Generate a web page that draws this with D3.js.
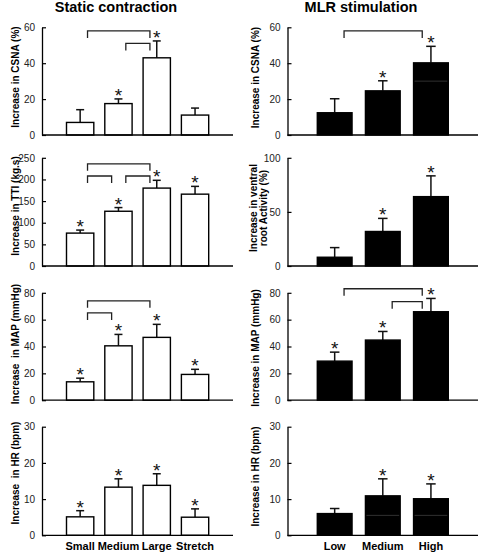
<!DOCTYPE html>
<html><head><meta charset="utf-8">
<script src="https://cdn.jsdelivr.net/npm/d3@7"></script>
<style>
body{margin:0;background:#fff}
text{font-family:"Liberation Sans",Arial,Helvetica,sans-serif}
</style>
</head><body>
<svg id="c" width="480" height="552"></svg>
<script>
// ---------- data ----------
const staticCats = ["Small", "Medium", "Large", "Stretch"];
const mlrCats = ["Low", "Medium", "High"];

const csnaStatic = [7.0, 17.5, 43.0, 11.1];
const csnaStaticErr = [7.1, 2.6, 9.4, 3.9];
const csnaStaticStar = [false, true, true, false];

const ttiStatic = [76, 126.5, 180, 166];
const ttiStaticErr = [7, 8.5, 18, 18];
const ttiStaticStar = [true, true, true, true];

const mapStatic = [13.7, 40.5, 46.8, 19.2];
const mapStaticErr = [2.7, 8.5, 9.7, 3.8];
const mapStaticStar = [true, true, true, true];

const hrStatic = [5.1, 13.3, 13.8, 5.0];
const hrStaticErr = [1.7, 2.3, 3.2, 2.3];
const hrStaticStar = [true, true, true, true];

const csnaMlr = [12.4, 24.6, 40.2];
const csnaMlrErr = [7.8, 5.6, 9.2];
const csnaMlrStar = [false, true, true];

const ventralMlr = [8.1, 31.9, 64.1];
const ventralMlrErr = [8.9, 12.1, 19.2];
const ventralMlrStar = [false, true, true];

const mapMlr = [29.1, 44.8, 65.9];
const mapMlrErr = [6.7, 6.4, 9.9];
const mapMlrStar = [true, true, true];

const hrMlr = [6.0, 10.9, 10.1];
const hrMlrErr = [1.4, 4.7, 4.1];
const hrMlrStar = [false, true, true];

// significance brackets: [from, to, level (axis units)]
const csnaStaticBrackets = [["Small", "Large", 58], ["Medium", "Large", 51]];
const ttiStaticBrackets = [["Small", "Large", 236], ["Small", "Medium", 208], ["Medium", "Large", 208]];
const mapStaticBrackets = [["Small", "Large", 74], ["Small", "Medium", 65]];
const csnaMlrBrackets = [["Low", "High", 58]];
const mapMlrBrackets = [["Low", "High", 83], ["Medium", "High", 73.4]];

// faint inner lines seen inside some filled bars: [category, value]
const csnaMlrInner = [["High", 30]];
const hrMlrInner = [["Medium", 5.5], ["High", 5.5]];

const ticksCSNA = [0, 20, 40, 60];
const ticksTTI = [0, 50, 100, 150, 200, 250];
const ticksMAP = [0, 20, 40, 60, 80];
const ticksHR = [0, 10, 20, 30];
const ticksVentral = [0, 50, 100];

const colTitles = ["Static contraction", "MLR stimulation"];

// ---------- layout ----------
const svg = d3.select("#c");
const rows = [
  {base: 135, top: 27.3},
  {base: 266, top: 157.8},
  {base: 400.2, top: 292.8},
  {base: 535.3, top: 426.7}
];
const cols = [
  {axisX: 42, endX: 233, range: [66.5, 208.7], pad: 0.287, cats: staticCats, fill: "#fff", cap: 8, titleX: 116, labelX: 18.5},
  {axisX: 287.5, endX: 478, range: [317.3, 448.3], pad: 0.278, cats: mlrCats, fill: "#000", cap: 9.5, titleX: 361, labelX: 258.5}
];

const panels = [
  {col: 0, row: 0, vals: csnaStatic, err: csnaStaticErr, star: csnaStaticStar, dom: [0, 60], ticks: ticksCSNA, br: csnaStaticBrackets, label: ["Increase in CSNA (%)"], labelY: 77},
  {col: 0, row: 1, vals: ttiStatic, err: ttiStaticErr, star: ttiStaticStar, dom: [0, 250], ticks: ticksTTI, br: ttiStaticBrackets, label: ["Increase in TTI (kg.s)"], labelY: 206},
  {col: 0, row: 2, vals: mapStatic, err: mapStaticErr, star: mapStaticStar, dom: [0, 80], ticks: ticksMAP, br: mapStaticBrackets, label: ["Increase  in MAP (mmHg)"], labelY: 344},
  {col: 0, row: 3, vals: hrStatic, err: hrStaticErr, star: hrStaticStar, dom: [0, 30], ticks: ticksHR, br: [], label: ["Increase  in HR (bpm)"], labelY: 473, xlabels: true},
  {col: 1, row: 0, vals: csnaMlr, err: csnaMlrErr, star: csnaMlrStar, dom: [0, 60], ticks: ticksCSNA, br: csnaMlrBrackets, label: ["Increase in CSNA (%)"], labelY: 77.5, inner: csnaMlrInner},
  {col: 1, row: 1, vals: ventralMlr, err: ventralMlrErr, star: ventralMlrStar, dom: [0, 100], ticks: ticksVentral, br: [], label: ["Increase in ventral", "root Activity (%)"], labelY: 208},
  {col: 1, row: 2, vals: mapMlr, err: mapMlrErr, star: mapMlrStar, dom: [0, 80], ticks: ticksMAP, br: mapMlrBrackets, label: ["Increase in MAP (mmHg)"], labelY: 348},
  {col: 1, row: 3, vals: hrMlr, err: hrMlrErr, star: hrMlrStar, dom: [0, 30], ticks: ticksHR, br: [], label: ["Increase in HR (bpm)"], labelY: 476.5, xlabels: true, inner: hrMlrInner}
];

// column titles
cols.forEach((c, i) => {
  svg.append("text").attr("x", c.titleX).attr("y", 12.2)
    .attr("text-anchor", "middle").attr("font-size", 14.5).attr("font-weight", "bold")
    .text(colTitles[i]);
});

panels.forEach(p => {
  const c = cols[p.col], r = rows[p.row];
  const x = d3.scaleBand().domain(c.cats).range(c.range).paddingInner(c.pad).paddingOuter(0);
  const y = d3.scaleLinear().domain(p.dom).range([r.base, r.top]);
  const g = svg.append("g");
  const data = c.cats.map((k, i) => ({k, v: p.vals[i], e: p.err[i], s: p.star[i]}));
  const cx = d => x(d.k) + x.bandwidth() / 2;

  // error whiskers (upper only)
  g.selectAll(".ew").data(data).join("line")
    .attr("x1", cx).attr("x2", cx)
    .attr("y1", d => y(d.v)).attr("y2", d => y(d.v + d.e))
    .attr("stroke", "#111").attr("stroke-width", 1.5);
  g.selectAll(".ec").data(data).join("line")
    .attr("x1", d => cx(d) - c.cap / 2).attr("x2", d => cx(d) + c.cap / 2)
    .attr("y1", d => y(d.v + d.e)).attr("y2", d => y(d.v + d.e))
    .attr("stroke", "#111").attr("stroke-width", 1.5);

  // bars
  g.selectAll(".b").data(data).join("rect")
    .attr("x", d => x(d.k)).attr("width", x.bandwidth())
    .attr("y", d => y(d.v)).attr("height", d => y(0) - y(d.v))
    .attr("fill", c.fill).attr("stroke", "#000").attr("stroke-width", 1.4);

  // faint inner lines
  (p.inner || []).forEach(([k, v]) => {
    g.append("line").attr("x1", x(k) + 1).attr("x2", x(k) + x.bandwidth() - 1)
      .attr("y1", y(v)).attr("y2", y(v)).attr("stroke", "#3c3c3c").attr("stroke-width", 0.8);
  });

  // asterisks
  g.selectAll(".s").data(data.filter(d => d.s)).join("text")
    .attr("x", cx).attr("y", d => y(d.v + d.e) + 3)
    .attr("text-anchor", "middle").attr("font-size", 19).attr("fill", "#111")
    .text("*");

  // brackets
  p.br.forEach(([a, b, lvl]) => {
    const x1 = x(a) + x.bandwidth() * 0.77;
    const x2 = x(b) + x.bandwidth() * 0.25;
    const yb = y(lvl);
    g.append("path").attr("d", `M${x1},${yb + 7}V${yb}H${x2}V${yb + 7}`)
      .attr("fill", "none").attr("stroke", "#222").attr("stroke-width", 1.3);
  });

  // y axis
  const ax = g.append("g").attr("transform", `translate(${c.axisX},0)`)
    .call(d3.axisLeft(y).tickValues(p.ticks).tickSizeInner(-4).tickSizeOuter(0).tickPadding(7));
  ax.select(".domain").attr("stroke", "#000").attr("stroke-width", 1.3);
  ax.selectAll(".tick line").attr("stroke", "#000").attr("stroke-width", 1.2);
  ax.selectAll(".tick text").attr("font-size", 10).attr("fill", "#222")
    .attr("font-family", "'Liberation Sans',Arial,sans-serif");

  // x baseline
  g.append("line").attr("x1", c.axisX).attr("x2", c.endX)
    .attr("y1", y(0)).attr("y2", y(0)).attr("stroke", "#000").attr("stroke-width", 1.3);

  // x category labels
  if (p.xlabels) {
    g.selectAll(".xl").data(c.cats).join("text")
      .attr("x", k => x(k) + x.bandwidth() / 2).attr("y", 550)
      .attr("text-anchor", "middle").attr("font-size", 11).attr("font-weight", "bold")
      .text(k => k);
  }

  // y label
  const n = p.label.length;
  p.label.forEach((t, i) => {
    const lx = n > 1 ? 257 + i * 9.5 : c.labelX;
    svg.append("text")
      .attr("transform", `translate(${lx},${p.labelY}) rotate(-90)`)
      .attr("text-anchor", "middle").attr("font-size", 10).attr("font-weight", "bold")
      .style("white-space", "pre")
      .text(t);
  });
});
</script>
</body></html>
